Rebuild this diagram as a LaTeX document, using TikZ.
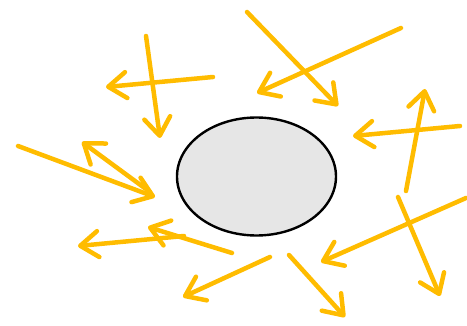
\documentclass[tikz,border=0pt]{standalone}
\usetikzlibrary{arrows.meta,shapes.geometric}
\definecolor{ray}{RGB}{255,188,0}
\definecolor{blobfill}{RGB}{230,230,230}
\tikzset{
  rayarrow/.style={draw=ray, line width=4.5pt, line cap=round,
    -{Straight Barb[length=18pt,width=26pt,round]}},
  blob/.style={ellipse, draw=black, line width=2.4pt, fill=blobfill,
    minimum width=159pt, minimum height=118pt, inner sep=0pt}
}
\begin{document}
\begin{tikzpicture}[x=1pt,y=-1pt]
\useasboundingbox (0,0) rectangle (467,326);
\node[blob] (core) at (256.5,176.5) {};
% coordinates: start s, tip t
\coordinate (s1) at (213,77);   \coordinate (t1) at (106,87);
\coordinate (s2) at (146,36);   \coordinate (t2) at (160,138);
\coordinate (s3) at (247,12);   \coordinate (t3) at (338,106);
\coordinate (s4) at (401,28);   \coordinate (t4) at (257,93);
\coordinate (s5) at (460,126);  \coordinate (t5) at (353,136);
\coordinate (s6) at (406,191);  \coordinate (t6) at (425,89);
\coordinate (s7) at (398,197);  \coordinate (t7) at (440,296);
\coordinate (s8) at (466,198);  \coordinate (t8) at (321,262);
\coordinate (s9) at (289,255);  \coordinate (t9) at (345,317);
\coordinate (s10) at (270,257); \coordinate (t10) at (183,297);
\coordinate (s11) at (232,253); \coordinate (t11) at (148,227);
\coordinate (s12) at (184,236); \coordinate (t12) at (78,246);
\coordinate (s13) at (18,146);  \coordinate (t13) at (155,197);
\coordinate (s14) at (150,192); \coordinate (t14) at (82,142);
\foreach \i in {1,...,14}{
  \draw[rayarrow] (s\i) -- (t\i);
}
\end{tikzpicture}
\end{document}
